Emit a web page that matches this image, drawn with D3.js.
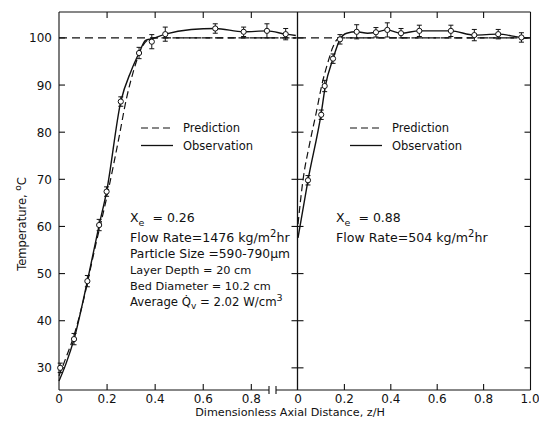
<!DOCTYPE html>
<html>
<head>
<meta charset="utf-8">
<script src="https://cdn.jsdelivr.net/npm/d3@7"></script>
<style>
  body { margin: 0; background: #fff; }
  text { font-family: "DejaVu Sans", sans-serif; fill: #111; }
</style>
</head>
<body>
<div id="chart"></div>
<script>
// ---- data ----
// left panel, Xe = 0.26
const obsLx = [0.005, 0.0625, 0.118, 0.167, 0.198, 0.257, 0.333, 0.386, 0.442, 0.65, 0.768, 0.865, 0.943];
const obsLT = [30, 36.1, 48.4, 60.3, 67.4, 86.5, 96.8, 99.2, 100.8, 102, 101.3, 101.5, 100.8];
const errL  = [1, 1.2, 1.2, 1.2, 1, 1, 1.2, 1.5, 1.5, 1, 1, 1.5, 1.2];
const fitLx = [0, 0.03, 0.0625, 0.118, 0.167, 0.198, 0.257, 0.3, 0.333, 0.36, 0.386, 0.442, 0.55, 0.65, 0.768, 0.865, 0.943, 0.985];
const fitLT = [27.2, 31, 36.1, 48.4, 60.3, 67.4, 86.5, 93, 96.8, 99.5, 99.8, 100.8, 101.8, 102, 101.3, 101.5, 100.8, 100.5];
const preLx = [0, 0.03, 0.06, 0.1, 0.15, 0.2, 0.25, 0.28, 0.31, 0.34, 0.37, 0.4, 0.985];
const preLT = [28.3, 32.3, 36.5, 44, 55.5, 66.5, 79, 87, 93, 97.5, 99.6, 100, 100];

// right panel, Xe = 0.88
const obsRx = [0.043, 0.1, 0.115, 0.151, 0.181, 0.253, 0.336, 0.385, 0.444, 0.523, 0.659, 0.76, 0.863, 0.963];
const obsRT = [69.8, 83.7, 89.8, 95.6, 99.7, 101.3, 101.2, 101.7, 101, 101.5, 101.5, 100.6, 100.8, 100.1];
const errR  = [1, 1, 1.2, 1, 1, 1.5, 1, 1.5, 1, 1.2, 1.2, 1.2, 1, 1];
const fitRx = [0, 0.043, 0.1, 0.118, 0.151, 0.181, 0.21, 0.253, 0.3, 0.336, 0.385, 0.444, 0.523, 0.659, 0.76, 0.863, 0.963, 1.0];
const fitRT = [57.6, 69.8, 84, 89.8, 95.6, 99.7, 101, 101.3, 101, 101.2, 101.7, 101, 101.5, 101.5, 100.6, 100.8, 100.1, 100];
const preRx = [0, 0.022, 0.05, 0.078, 0.105, 0.13, 0.15, 0.17, 0.2, 1.0];
const preRT = [60.5, 70, 77.5, 84, 90.5, 95, 98, 99.7, 100, 100];

const satT = 100;
const yTicks = [30, 40, 50, 60, 70, 80, 90, 100];
const xTicksL = [0, 0.2, 0.4, 0.6, 0.8];
const xTicksR = [0, 0.2, 0.4, 0.6, 0.8, 1.0];
const notesL = ["= 0.26", "Flow Rate=1476 kg/m", "Particle Size =590-790\u00b5m", "Layer Depth = 20 cm", "Bed Diameter = 10.2 cm", "Average "];
const notesR = ["= 0.88", "Flow Rate=504 kg/m"];

const width = 539, height = 425;
const svg = d3.select("#chart").append("svg")
    .attr("width", width)
    .attr("height", height);

const y = d3.scaleLinear().domain([25.3, 105.5]).range([390, 12]);
const xL = d3.scaleLinear().domain([0, 0.99]).range([59, 297]);
const xR = d3.scaleLinear().domain([0, 1]).range([298, 530]);
const yTop = 12, yBot = 390, x0 = 59, xm = 297.5, x1 = 530.5;
const ink = "#111";

// frame
const frame = svg.append("g").attr("stroke", ink).attr("stroke-width", 1.1);
frame.append("line").attr("x1", x0).attr("x2", x0).attr("y1", yTop).attr("y2", yBot);
frame.append("line").attr("x1", xm).attr("x2", xm).attr("y1", yTop).attr("y2", yBot).attr("stroke-width", 1.3);
frame.append("line").attr("x1", x1).attr("x2", x1).attr("y1", yTop).attr("y2", yBot);
frame.append("line").attr("x1", x0).attr("x2", x1).attr("y1", yTop).attr("y2", yTop);
frame.append("line").attr("x1", x0).attr("x2", 269).attr("y1", yBot).attr("y2", yBot);
frame.append("line").attr("x1", 276).attr("x2", x1).attr("y1", yBot).attr("y2", yBot);
// axis break
[269, 276].forEach(bx => {
  frame.append("line").attr("x1", bx).attr("x2", bx).attr("y1", yBot - 4).attr("y2", yBot + 4);
});

// y ticks
yTicks.forEach(t => {
  const py = y(t);
  frame.append("line").attr("x1", x0).attr("x2", x0 + 6).attr("y1", py).attr("y2", py);
  frame.append("line").attr("x1", xm - 6).attr("x2", xm + 6).attr("y1", py).attr("y2", py);
  frame.append("line").attr("x1", x1 - 6).attr("x2", x1).attr("y1", py).attr("y2", py);
  svg.append("text").attr("x", 52).attr("y", py + 4.5)
     .attr("text-anchor", "end").attr("font-size", 12).text(t);
});

// x ticks
function xAxis(sc, ticks) {
  ticks.forEach(t => {
    const px = sc(t);
    if (t > 0 && t < 1) {
      frame.append("line").attr("x1", px).attr("x2", px).attr("y1", yBot).attr("y2", yBot - 6);
      frame.append("line").attr("x1", px).attr("x2", px).attr("y1", yTop).attr("y2", yTop + 6);
    }
    svg.append("text").attr("x", px).attr("y", yBot + 13)
       .attr("text-anchor", "middle").attr("font-size", 12)
       .text(t === 0 ? "0" : d3.format(".1f")(t));
  });
}
xAxis(xL, xTicksL);
xAxis(xR, xTicksR);

// axis titles
svg.append("text").attr("x", 290).attr("y", 416)
   .attr("text-anchor", "middle").attr("font-size", 11.2)
   .text("Dimensionless Axial Distance, z/H");
const yt = svg.append("text").attr("transform", "translate(26,224) rotate(-90)")
   .attr("text-anchor", "middle").attr("font-size", 11.5);
yt.append("tspan").text("Temperature, ");
yt.append("tspan").attr("dy", -5).attr("font-size", 9).text("o");
yt.append("tspan").attr("dy", 5).text("C");

// curves
const line = (sx) => d3.line().x(d => sx(d[0])).y(d => y(d[1])).curve(d3.curveMonotoneX);
const zip = (a, b) => a.map((v, i) => [v, b[i]]);

function panel(sx, fx, fT, px, pT, ox, oT, err, xEnd) {
  const g = svg.append("g");
  g.append("path").datum([[0, satT], [xEnd, satT]]).attr("d", line(sx))
   .attr("fill", "none").attr("stroke", ink).attr("stroke-width", 1.1).attr("stroke-dasharray", "8,5");
  g.append("path").datum(zip(px, pT)).attr("d", line(sx))
   .attr("fill", "none").attr("stroke", ink).attr("stroke-width", 1.2).attr("stroke-dasharray", "7,4");
  g.append("path").datum(zip(fx, fT)).attr("d", line(sx))
   .attr("fill", "none").attr("stroke", ink).attr("stroke-width", 1.4);
  const pts = ox.map((v, i) => ({ x: v, t: oT[i], e: err[i] }));
  const eb = g.selectAll(".eb").data(pts).enter().append("g").attr("stroke", ink).attr("stroke-width", 1);
  eb.append("line").attr("x1", d => sx(d.x)).attr("x2", d => sx(d.x))
    .attr("y1", d => y(d.t - d.e)).attr("y2", d => y(d.t + d.e));
  eb.append("line").attr("x1", d => sx(d.x) - 2.5).attr("x2", d => sx(d.x) + 2.5)
    .attr("y1", d => y(d.t - d.e)).attr("y2", d => y(d.t - d.e));
  eb.append("line").attr("x1", d => sx(d.x) - 2.5).attr("x2", d => sx(d.x) + 2.5)
    .attr("y1", d => y(d.t + d.e)).attr("y2", d => y(d.t + d.e));
  g.selectAll("circle").data(pts).enter().append("circle")
   .attr("cx", d => sx(d.x)).attr("cy", d => y(d.t)).attr("r", 2.6)
   .attr("fill", "#fff").attr("stroke", ink).attr("stroke-width", 1);
}
panel(xL, fitLx, fitLT, preLx, preLT, obsLx, obsLT, errL, 0.985);
panel(xR, fitRx, fitRT, preRx, preRT, obsRx, obsRT, errR, 1.0);

// legends
function legend(lx) {
  svg.append("line").attr("x1", lx).attr("x2", lx + 32).attr("y1", 128).attr("y2", 128)
     .attr("stroke", ink).attr("stroke-width", 1.2).attr("stroke-dasharray", "7,4");
  svg.append("line").attr("x1", lx).attr("x2", lx + 32).attr("y1", 145.5).attr("y2", 145.5)
     .attr("stroke", ink).attr("stroke-width", 1.3);
  svg.append("text").attr("x", lx + 42).attr("y", 132).attr("font-size", 11.5).text("Prediction");
  svg.append("text").attr("x", lx + 42).attr("y", 150).attr("font-size", 11.5).text("Observation");
}
legend(141);
legend(350);

// notes
function xe(x, s) {
  const t = svg.append("text").attr("x", x).attr("y", 222).attr("font-size", 12.5);
  t.append("tspan").text("X");
  t.append("tspan").attr("dy", 4).attr("font-size", 9.5).text("e");
  t.append("tspan").attr("dy", -4).attr("dx", 8).text(s);
}
function flow(x, s, yy) {
  const t = svg.append("text").attr("x", x).attr("y", yy).attr("font-size", 12.6);
  t.append("tspan").text(s);
  t.append("tspan").attr("dy", -5).attr("font-size", 10).text("2");
  t.append("tspan").attr("dy", 5).text("hr");
}
xe(130, notesL[0]);
flow(130, notesL[1], 242);
svg.append("text").attr("x", 130).attr("y", 258).attr("font-size", 12.3).text(notesL[2]);
svg.append("text").attr("x", 130).attr("y", 274).attr("font-size", 11.3).text(notesL[3]);
svg.append("text").attr("x", 130).attr("y", 290).attr("font-size", 11.3).text(notesL[4]);
const av = svg.append("text").attr("x", 130).attr("y", 306).attr("font-size", 11.7);
av.append("tspan").text(notesL[5] + "Q\u0307");
av.append("tspan").attr("dy", 3).attr("font-size", 9).text("v");
av.append("tspan").attr("dy", -3).text(" = 2.02 W/cm");
av.append("tspan").attr("dy", -5).attr("font-size", 9.5).text("3");

xe(336, notesR[0]);
flow(336, notesR[1], 242);
</script>
</body>
</html>
